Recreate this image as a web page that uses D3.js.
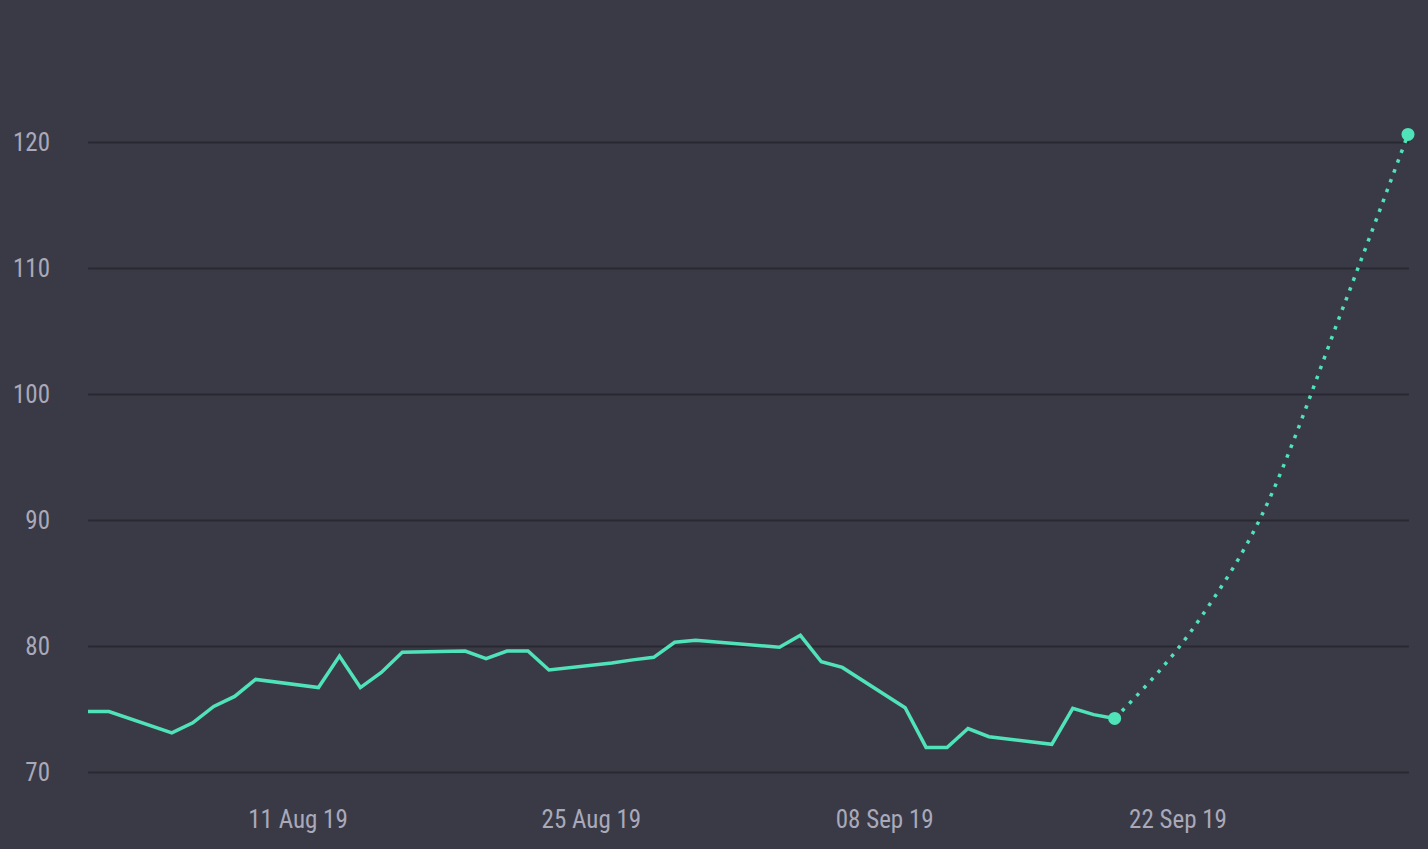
<!DOCTYPE html>
<html>
<head>
<meta charset="utf-8">
<script src="https://cdn.jsdelivr.net/npm/d3@7"></script>
<style>
  body { margin: 0; background: #3a3a46; }
  svg { display: block; }
  .tick text { font-family: "Liberation Sans Narrow", "Roboto Condensed", Roboto, sans-serif; }
</style>
</head>
<body>
<script>
// observed prices (trading days only)
const dates = ["2019-08-01","2019-08-02","2019-08-05","2019-08-06","2019-08-07","2019-08-08","2019-08-09",
    "2019-08-12","2019-08-13","2019-08-14","2019-08-15","2019-08-16",
    "2019-08-19","2019-08-20","2019-08-21","2019-08-22","2019-08-23",
    "2019-08-26","2019-08-27","2019-08-28","2019-08-29","2019-08-30",
    "2019-09-03","2019-09-04","2019-09-05","2019-09-06",
    "2019-09-09","2019-09-10","2019-09-11","2019-09-12","2019-09-13",
    "2019-09-16","2019-09-17","2019-09-18","2019-09-19"];
const values = [74.8, 74.8, 73.1, 73.9, 75.2, 76.0, 77.35,
    76.7, 79.2, 76.7, 77.9, 79.5,
    79.6, 79.0, 79.6, 79.6, 78.1,
    78.65, 78.9, 79.1, 80.3, 80.45,
    79.9, 80.85, 78.75, 78.3,
    75.1, 71.95, 71.95, 73.45, 72.8,
    72.2, 75.05, 74.55, 74.25];

// projected path
const forecastDates = ["2019-09-19","2019-09-23","2019-09-26","2019-09-30","2019-10-03"];
const forecastValues = [74.25, 82.0, 90.3, 107.3, 120.6];

const xTicks = ["2019-08-11","2019-08-25","2019-09-08","2019-09-22"];
const yTicks = [70, 80, 90, 100, 110, 120];

const width = 1428, height = 849;
const margin = {top: 60, right: 20, bottom: 77, left: 88};
const parse = d3.timeParse("%Y-%m-%d");

const observed = dates.map((d, i) => ({date: parse(d), value: values[i]}));
const forecast = forecastDates.map((d, i) => ({date: parse(d), value: forecastValues[i]}));

const svg = d3.select("body").append("svg")
    .attr("width", width)
    .attr("height", height);

const x = d3.scaleTime()
    .domain([parse("2019-08-01"), parse("2019-10-03")])
    .range([margin.left, 1408]);

const y = d3.scaleLinear()
    .domain([70, 120])
    .range([772, 142]);

// grid + y labels
const yAxis = svg.append("g")
    .attr("transform", `translate(${margin.left},0)`)
    .call(d3.axisLeft(y).tickValues(yTicks).tickSize(-(1409 - margin.left)).tickPadding(38));
yAxis.select(".domain").remove();
yAxis.selectAll(".tick line").attr("stroke", "#292931").attr("stroke-width", 2);
yAxis.selectAll(".tick text")
    .attr("fill", "#a9a9ba")
    .attr("font-size", 25);

// x labels
const xAxis = svg.append("g")
    .attr("transform", "translate(0,810)")
    .call(d3.axisBottom(x).tickValues(xTicks.map(parse)).tickFormat(d3.timeFormat("%d %b %y")).tickSize(0).tickPadding(0));
xAxis.select(".domain").remove();
xAxis.selectAll(".tick text")
    .attr("fill", "#a9a9ba")
    .attr("font-size", 25)
    .attr("dy", "0.71em");

const line = d3.line()
    .x(d => x(d.date))
    .y(d => y(d.value));

svg.append("path")
    .datum(forecast)
    .attr("fill", "none")
    .attr("stroke", "#50e3b9")
    .attr("stroke-width", 3.5)
    .attr("stroke-dasharray", "3.5 7")
    .attr("d", line.curve(d3.curveMonotoneX));

svg.append("path")
    .datum(observed)
    .attr("fill", "none")
    .attr("stroke", "#50e3b9")
    .attr("stroke-width", 3.5)
    .attr("stroke-linejoin", "miter")
    .attr("d", d3.line().x(d => x(d.date)).y(d => y(d.value)));

svg.selectAll("circle.end")
    .data([forecast[0], forecast[forecast.length - 1]])
    .enter()
    .append("circle")
    .attr("class", "end")
    .attr("cx", d => x(d.date))
    .attr("cy", d => y(d.value))
    .attr("r", 6.5)
    .attr("fill", "#50e3b9");
</script>
</body>
</html>
